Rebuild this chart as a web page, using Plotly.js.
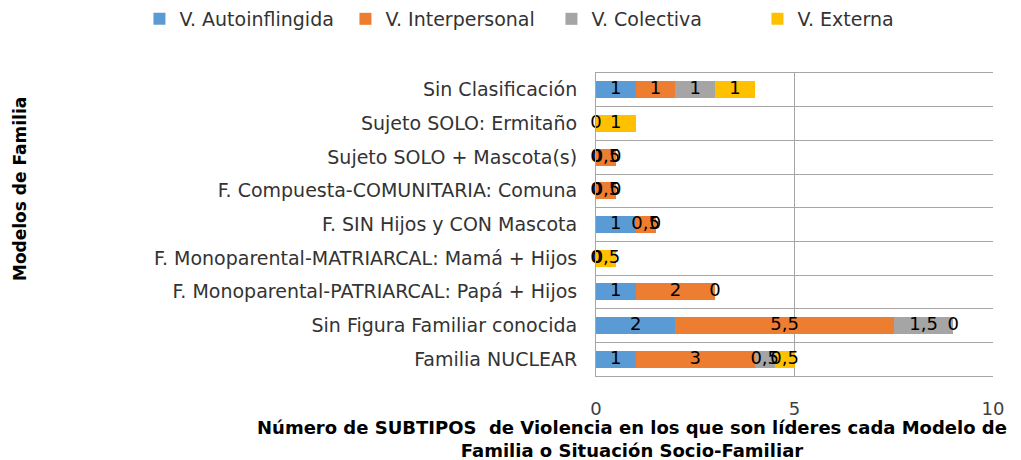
<!DOCTYPE html>
<html>
<head>
<meta charset="utf-8">
<script src="https://cdn.plot.ly/plotly-3.0.1.min.js"></script>
<style>html,body{margin:0;padding:0;background:#fff}#chart{width:1021px;height:460px}</style>
</head>
<body>
<div id="chart"></div>
<script>
const categories = [
  "Familia NUCLEAR",
  "Sin Figura Familiar conocida",
  "F. Monoparental-PATRIARCAL: Papá + Hijos",
  "F. Monoparental-MATRIARCAL: Mamá + Hijos",
  "F. SIN Hijos y CON Mascota",
  "F. Compuesta-COMUNITARIA: Comuna",
  "Sujeto SOLO + Mascota(s)",
  "Sujeto SOLO: Ermitaño",
  "Sin Clasificación"
];
const seriesNames = ["V. Autoinflingida", "V. Interpersonal", "V. Colectiva", "V. Externa"];
const autoinflingida = [1, 2, 1, 0, 1, 0, 0, 0, 1];
const interpersonal  = [3, 5.5, 2, null, 0.5, 0.5, 0.5, null, 1];
const colectiva      = [0.5, 1.5, 0, null, 0, 0, 0, null, 1];
const externa        = [0.5, 0, null, 0.5, null, null, null, 1, 1];
const colors = ["#5B9BD5", "#ED7D31", "#A5A5A5", "#FFC000"];
const xTicks = [0, 5, 10];

const FONT = "DejaVu Sans, sans-serif";
const series = [autoinflingida, interpersonal, colectiva, externa];

const traces = series.map((vals, i) => ({
  type: "bar", orientation: "h", name: seriesNames[i],
  y: categories, x: vals.map(v => v === null ? 0 : v),
  marker: {color: colors[i]}, hoverinfo: "x+name"
}));

// data labels from cumulative sums
const lx = [], ly = [], lt = [];
categories.forEach((c, j) => {
  let cum = 0;
  series.forEach(vals => {
    const v = vals[j];
    if (v === null) return;
    lx.push(cum + v / 2); ly.push(c);
    lt.push(String(v).replace(".", ","));
    cum += v;
  });
});
traces.push({
  type: "scatter", mode: "text", x: lx, y: ly, text: lt,
  textfont: {family: FONT, size: 18, color: "#000"},
  textposition: "middle center", showlegend: false, hoverinfo: "skip", cliponaxis: false
});

const layout = {
  width: 1021, height: 460,
  margin: {l: 596, r: 28, t: 73, b: 84, autoexpand: false},
  barmode: "stack", bargap: 0.5,
  paper_bgcolor: "#fff", plot_bgcolor: "#fff",
  font: {family: FONT, size: 18, color: "#333"},
  xaxis: {
    range: [0, 10], tickvals: xTicks, ticktext: xTicks.map(String),
    showgrid: true, gridcolor: "#A6A6A6", gridwidth: 1,
    zeroline: false, showline: true, mirror: true, linecolor: "#A6A6A6", linewidth: 1,
    ticks: "", ticklabelstandoff: 16,
    tickfont: {family: FONT, size: 18, color: "#404040"}
  },
  yaxis: {
    type: "category", tickson: "boundaries", showgrid: true,
    gridcolor: "#A6A6A6", gridwidth: 1, ticks: "", showline: true,
    linecolor: "#A6A6A6", linewidth: 1, ticklen: 0, ticklabelstandoff: 14,
    tickfont: {family: FONT, size: 19, color: "#333"},
    automargin: false
  },
  showlegend: true,
  legend: {
    orientation: "h", xref: "paper", yref: "paper",
    x: -1.15, xanchor: "left", y: 1.241, yanchor: "top",
    font: {family: FONT, size: 19, color: "#333"},
    traceorder: "normal", itemwidth: 30, tracegroupgap: 0,
    entrywidth: 161, entrywidthmode: "pixels"
  },
  annotations: [
    {
      xref: "paper", yref: "paper", x: 0.09, y: -0.129,
      xanchor: "center", yanchor: "top", showarrow: false,
      text: "<b>Número de SUBTIPOS  de Violencia en los que son líderes cada Modelo de<br>Familia o Situación Socio-Familiar</b>",
      font: {family: FONT, size: 18, color: "#000"}, align: "center"
    },
    {
      xref: "paper", yref: "paper", x: -1.451, y: 0.617,
      xanchor: "center", yanchor: "middle", showarrow: false, textangle: -90,
      text: "<b>Modelos de Familia</b>",
      font: {family: FONT, size: 17, color: "#000"}
    }
  ]
};

Plotly.newPlot("chart", traces, layout, {displayModeBar: false, staticPlot: true});
</script>
</body>
</html>
